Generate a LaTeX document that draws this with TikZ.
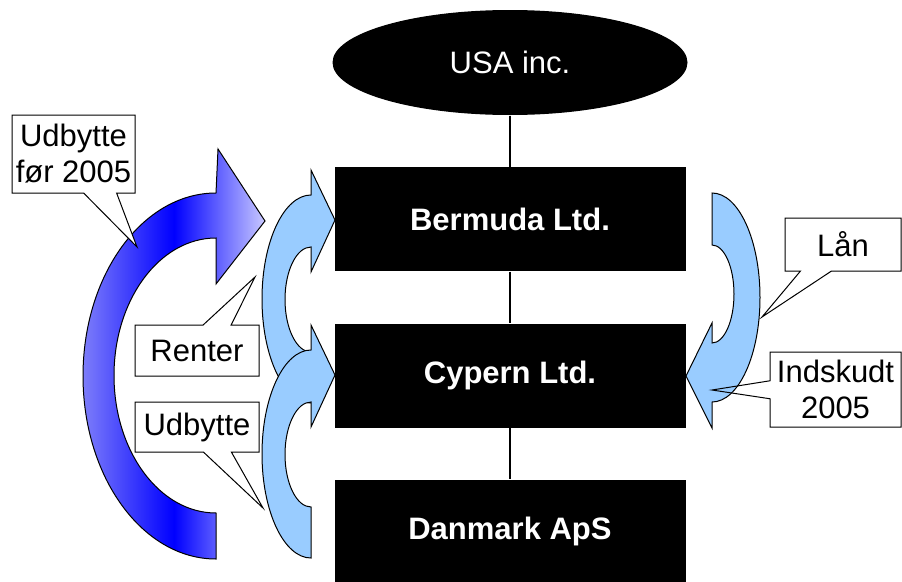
\documentclass[tikz,border=0pt]{standalone}
\usepackage{fontspec}
\setmainfont{Liberation Sans}
\usepackage{xcolor}
\usetikzlibrary{shapes.geometric,shapes.callouts}
\definecolor{softblue}{RGB}{153,204,255}
\definecolor{paleblue}{RGB}{125,125,250}
\definecolor{lavender}{RGB}{200,200,255}

\begin{document}
\begin{tikzpicture}[x=1pt, y=-1pt, line width=1pt, font=\fontsize{31}{36}\selectfont,
  company/.style={fill=black, text=white, font=\fontsize{31}{36}\selectfont\bfseries, minimum width=351pt, minimum height=104pt},
  speech/.style={rectangle callout, draw, fill=white, inner sep=2pt, align=center},
  flowarrow/.style={draw, fill=softblue},
  bigarrow/.style={draw, left color=paleblue, right color=lavender, middle color=blue}]
				\useasboundingbox (0,0) rectangle (902,581);
				
				\node[ellipse, fill=black, text=white, minimum width=355pt, minimum height=105pt] (usa) at (510,62.5) {USA inc.};
				\node[company] (bermuda) at (510,219) {Bermuda Ltd.};
				\node[company] (cypern) at (510,375.5) {Cypern Ltd.};
				\node[company] (danmark) at (510,531.5) {Danmark ApS};
				
				\draw[line width=1.3pt] (usa) -- (bermuda);
				\draw[line width=1.3pt] (bermuda) -- (cypern);
				\draw[line width=1.3pt] (cypern) -- (danmark);
				
				\draw[bigarrow] (216,559) arc[start angle=90, end angle=270, x radius=133, y radius=183] -- (218,149) -- (265,221) -- (216,284) -- (216,238) arc[start angle=270, end angle=90, x radius=102, y radius=137.5] -- cycle;
				\foreach \cy in {299,454}
				\draw[flowarrow] (311,\cy+104) arc[start angle=90, end angle=270, x radius=49, y radius=104] -- (311,\cy-129) -- (335,\cy-79) -- (311,\cy-27) -- (311,\cy-52) arc[start angle=270, end angle=90, x radius=26, y radius=52.5] -- cycle;
				\draw[flowarrow] (712,193) arc[start angle=-90, end angle=90, x radius=48, y radius=104.5] -- (712,428) -- (686,376) -- (712,323) -- (712,343) arc[start angle=90, end angle=-90, x radius=22, y radius=49] -- cycle;
				
				\coordinate (pfoer) at (137,247);
				\coordinate (prenter) at (255,277);
				\coordinate (pudbytte) at (263,508);
				\coordinate (plaan) at (762,317);
				\coordinate (pindskudt) at (712,390);
				
				\node[speech, minimum width=123pt, minimum height=78pt, callout absolute pointer={(pfoer)}, callout pointer width=33pt] (udbfoer) at (73.5,154) {Udbytte\\før 2005};
				\node[speech, minimum width=124pt, minimum height=51pt, callout absolute pointer={(prenter)}, callout pointer width=28pt] (renter) at (197,350.5) {Renter};
				\node[speech, minimum width=124pt, minimum height=50pt, callout absolute pointer={(pudbytte)}, callout pointer width=28pt] (udbytte) at (197,427) {Udbytte};
				\node[speech, minimum width=116pt, minimum height=53pt, callout absolute pointer={(plaan)}, callout pointer width=31pt] (laan) at (843,244.5) {Lån};
				\node[speech, fill=none, minimum width=131pt, minimum height=75pt, callout absolute pointer={(pindskudt)}, callout pointer width=18pt] (indskudt) at (835.5,389.5) {Indskudt\\2005};
			\end{tikzpicture}
\end{document}
